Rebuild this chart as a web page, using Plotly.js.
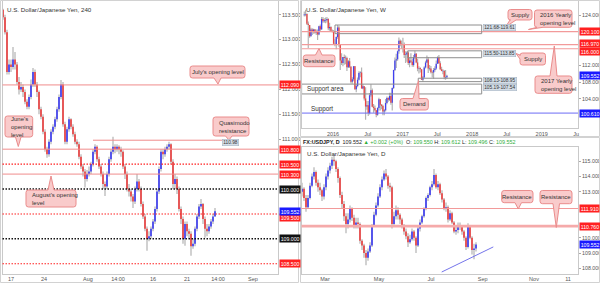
<!DOCTYPE html>
<html><head><meta charset="utf-8">
<script src="https://cdn.plot.ly/plotly-3.0.1.min.js"></script>
<style>html,body{margin:0;padding:0;background:#fff;}#chart{width:600px;height:283px;}</style>
</head><body><div id="chart"></div>
<script>
// ---------- 4H panel (left) ----------
const lO=[113.6,113.45,113.15,112.35,112.5,112.45,112.6,112.5,112.15,112.0,
112.05,111.95,111.75,111.65,111.85,112.1,112.35,112.1,111.95,111.6,
111.45,111.15,110.8,110.7,110.95,111.15,111.25,111.4,111.6,111.85,
112.1,111.3,110.95,111.2,111.4,111.25,111.1,110.95,110.9,110.65,
110.45,110.35,110.2,110.3,110.35,110.5,110.75,110.85,110.6,110.45,
110.3,110.1,110.05,110.3,110.6,110.75,110.85,110.8,110.85,110.8,
110.75,110.45,110.3,110.0,109.95,109.85,109.75,110.0,110.15,110.0,
109.7,109.45,109.2,109.0,109.05,109.2,109.35,109.6,109.95,110.4,
110.75,110.7,110.8,110.85,110.9,110.55,110.1,110.2,110.0,109.6,
109.4,109.0,109.3,109.15,109.1,108.85,108.9,109.2,109.45,109.65,
109.7,109.4,109.2,109.15,109.25,109.35,109.45];
const lH=[113.62,113.5,113.2,112.6,112.6,112.85,112.75,112.55,112.25,112.15,
112.1,112.0,111.8,111.9,112.2,112.43,112.4,112.15,111.98,111.65,
111.5,111.2,110.85,111.0,111.2,111.3,111.45,111.65,111.9,112.19,
112.15,111.35,111.25,111.45,111.42,111.3,111.15,111.0,110.95,110.7,
110.5,110.4,110.38,110.45,110.55,110.8,110.9,110.88,110.65,110.5,
110.35,110.15,110.35,110.65,110.8,111.05,110.9,110.9,110.88,110.85,
110.78,110.5,110.35,110.1,110.0,109.9,110.05,110.3,110.2,110.05,
109.75,109.5,109.25,109.15,109.25,109.4,109.65,110.0,110.45,110.8,
110.8,110.85,110.9,110.95,110.92,110.6,110.3,110.25,110.05,109.65,
109.45,109.35,109.35,109.2,109.15,109.0,109.25,109.5,109.7,109.8,
109.72,109.45,109.3,109.3,109.4,109.5,109.62];
const lL=[113.4,113.1,112.3,112.3,112.35,112.4,112.4,112.1,111.9,111.95,
111.85,111.7,111.6,111.6,111.8,112.05,112.05,111.85,111.5,111.4,
111.1,110.75,110.63,110.65,110.9,111.1,111.2,111.35,111.55,111.8,
111.25,110.9,110.9,111.15,111.2,111.05,110.9,110.85,110.6,110.4,
110.25,110.03,110.15,110.25,110.3,110.45,110.7,110.55,110.4,110.25,
110.0,109.86,110.0,110.25,110.55,110.7,110.72,110.75,110.7,110.65,
110.4,110.2,109.95,109.85,109.75,109.62,109.7,109.95,109.95,109.65,
109.4,109.15,108.76,108.95,109.0,109.15,109.3,109.55,109.9,110.35,
110.6,110.65,110.75,110.8,110.5,110.0,110.0,109.9,109.55,109.3,
108.9,108.86,109.05,109.0,108.66,108.8,108.85,109.15,109.4,109.6,
109.3,109.02,109.05,109.1,109.2,109.3,109.45];
const lC=[113.45,113.15,112.35,112.5,112.45,112.6,112.5,112.15,112.0,112.05,
111.95,111.75,111.65,111.85,112.1,112.35,112.1,111.95,111.6,111.45,
111.15,110.8,110.7,110.95,111.15,111.25,111.4,111.6,111.85,112.1,
111.3,110.95,111.2,111.4,111.25,111.1,110.95,110.9,110.65,110.45,
110.35,110.2,110.3,110.35,110.5,110.75,110.85,110.6,110.45,110.3,
110.1,110.05,110.3,110.6,110.75,110.85,110.8,110.85,110.8,110.75,
110.45,110.3,110.0,109.95,109.85,109.75,110.0,110.15,110.0,109.7,
109.45,109.2,109.0,109.05,109.2,109.35,109.6,109.95,110.4,110.75,
110.7,110.8,110.85,110.9,110.55,110.1,110.2,110.0,109.6,109.4,
109.0,109.3,109.15,109.1,108.85,108.9,109.2,109.45,109.65,109.7,
109.4,109.2,109.15,109.25,109.35,109.45,109.552];
const lTickPos=[4,20.5,42.5,57.5,75,92,107.5,125];
const lTickText=['17','24','Aug','14:00','16','21','14:00','Sep'];
const lLevels=[112.09,110.8,110.3];          // solid levels
const lRedDots=[110.5,109.5,108.5];          // red dotted levels
const lBlackDots=[110.0,109.0];              // black dotted levels
const qmLevel=110.98, qmFrom=45, qmTo=109.5; // Quasimodo resistance segment (candle index)

// ---------- Weekly panel ----------
const wO=[124.0,124.2,124.3,122.0,121.7,119.0,120.6,120.0,120.6,119.9,
120.2,119.4,121.4,120.6,123.1,122.6,122.8,122.8,123.1,120.9,
121.2,120.3,120.2,117.2,116.9,118.8,121.1,116.9,113.2,112.6,
114.0,113.8,113.8,111.6,113.0,111.7,108.1,108.7,111.8,106.3,
107.1,108.6,110.2,110.3,106.5,107.0,104.1,102.2,102.5,100.6,
104.9,106.1,102.1,101.8,101.3,100.2,101.8,103.9,102.6,102.3,
101.0,101.3,103.0,104.2,103.8,104.7,103.1,106.6,110.9,113.2,
113.5,115.4,117.9,117.2,116.9,117.0,114.5,114.6,115.1,112.6,
113.2,112.9,112.1,114.0,114.8,112.7,111.3,111.4,111.1,108.6,
109.1,111.5,112.7,113.4,111.3,111.3,110.4,110.3,110.9,111.3,
112.4,113.9,112.5,111.1,110.7,110.7,109.2,109.2];
const wH=[124.9,125.3,124.5,122.5,121.7,121.0,120.9,120.8,120.7,120.6,
120.6,121.5,121.8,123.6,123.6,123.3,123.5,123.6,123.3,122.2,
121.4,120.6,120.5,118.3,118.9,121.7,121.5,117.0,114.9,114.0,
114.6,114.4,114.1,113.3,113.8,111.9,109.2,111.9,111.9,107.5,
109.1,110.6,110.6,111.5,107.5,107.0,106.8,103.5,103.5,105.4,
107.5,106.5,102.8,102.4,101.3,102.0,104.3,104.0,102.8,102.6,
101.6,104.0,104.6,104.4,105.5,105.5,106.7,111.0,113.9,114.8,
115.6,118.7,118.2,118.0,118.6,117.5,115.4,115.4,115.4,113.9,
114.9,113.6,114.5,115.5,115.0,113.6,111.8,111.6,111.1,109.5,
111.8,113.1,114.4,114.0,112.1,111.9,110.8,111.4,111.8,113.2,
114.2,114.5,113.0,111.7,111.1,110.9,110.9,109.8];
const wL=[123.7,123.8,121.7,116.2,118.6,118.9,119.3,119.6,119.6,119.3,
118.1,119.2,120.1,120.6,122.2,122.2,122.1,122.3,120.4,120.3,
120.1,119.9,117.1,116.6,115.9,118.4,116.5,110.9,112.1,111.8,
112.2,112.3,110.7,111.4,111.4,107.7,107.6,108.2,106.2,105.6,
106.8,108.4,109.2,106.5,106.3,103.6,99.0,101.4,99.9,100.3,
104.5,102.0,100.7,101.0,99.6,100.0,101.2,101.2,101.5,100.1,
100.1,101.0,102.7,103.3,103.5,102.6,101.2,106.4,110.7,111.4,
113.1,114.8,116.6,116.0,115.1,113.8,112.6,112.9,112.1,111.6,
112.6,111.7,111.7,113.6,112.5,110.6,110.1,110.3,108.5,108.1,
109.1,111.3,112.6,110.2,110.8,110.1,109.1,108.8,110.5,111.0,
112.4,112.4,110.9,110.6,109.9,108.7,108.6,108.8];
const wC=[124.2,124.3,122.0,121.7,119.0,120.6,120.0,120.6,119.9,120.2,
119.4,121.4,120.6,123.1,122.6,122.8,122.8,123.1,120.9,121.2,
120.3,120.2,117.2,116.9,118.8,121.1,116.9,113.2,112.6,114.0,
113.8,113.8,111.6,113.0,111.7,108.1,108.7,111.8,106.3,107.1,
108.6,110.2,110.3,106.5,107.0,104.1,102.2,102.5,100.6,104.9,
106.1,102.1,101.8,101.3,100.2,101.8,103.9,102.6,102.3,101.0,
101.3,103.0,104.2,103.8,104.7,103.1,106.6,110.9,113.2,113.5,
115.4,117.9,117.2,116.9,117.0,114.5,114.6,115.1,112.6,113.2,
112.9,112.1,114.0,114.8,112.7,111.3,111.4,111.1,108.6,109.1,
111.5,112.7,113.4,111.3,111.3,110.4,110.3,110.9,111.3,112.4,
113.9,112.5,111.1,110.7,110.7,109.2,109.2,109.552];
const wTickPos=[21.57,47.57,73.86,99.71,126.0,151.86,178.14,204.0];
const wTickText=['2016','Jul','2017','Jul','2018','Jul','2019','Ju'];
const wRedLevels=[120.1,116.97,116.0];
const wBlueLevel=100.61;
const wZoneHi=[121.68,115.50,108.95,107.54];
const wZoneLo=[119.61,113.85,108.13,105.19];
const wZoneFrom=[23.05,77.6,85.5,-2];
const wZoneTo=133.1;
const wZoneText=['121.68-119.61','115.50-113.85','108.13-108.95','105.19-107.54'];

// ---------- Daily panel ----------
const dO=[113.0,113.2,112.6,112.0,112.6,113.4,114.0,114.3,113.6,113.3,
113.1,112.7,113.3,114.0,114.4,114.7,115.1,115.0,114.5,113.9,
112.8,112.2,111.4,110.9,111.2,111.9,111.3,110.8,111.0,110.9,
109.8,109.5,109.0,108.7,109.1,109.5,110.8,111.5,112.1,112.7,
113.3,113.8,114.2,114.0,113.4,113.3,110.9,111.4,111.8,111.5,
111.2,110.8,110.4,110.1,109.7,109.9,110.4,110.0,109.5,110.6,
111.0,111.4,111.9,112.6,112.8,113.3,113.5,114.1,113.3,113.5,
112.9,112.5,111.9,112.0,111.2,111.6,111.0,110.4,110.5,110.8,
110.7,110.4,110.0,109.4,110.8,110.0,109.2,109.3];
const dH=[113.6,113.3,112.8,112.8,113.6,114.2,114.6,114.4,113.8,113.6,
113.2,113.5,114.2,114.6,114.9,115.3,115.4,115.1,114.6,114.0,
113.0,112.4,111.6,111.6,112.1,112.0,111.5,111.3,111.3,111.0,
109.9,109.6,109.2,109.3,109.7,110.9,111.7,112.3,112.9,113.5,
114.0,114.4,114.5,114.1,113.6,113.4,111.7,112.1,112.0,111.6,
111.3,110.9,110.6,110.3,110.2,110.6,110.5,110.1,110.7,111.2,
111.5,112.0,112.7,112.9,113.4,113.7,114.5,114.2,113.7,113.6,
113.1,112.6,112.3,112.1,111.8,111.7,111.1,110.8,111.0,111.0,
110.8,110.5,110.1,110.95,110.8,110.1,109.6,109.7];
const dL=[112.7,112.4,111.7,111.9,112.5,113.3,113.8,113.4,113.0,112.8,
112.4,112.5,113.1,113.8,114.2,114.5,114.7,114.3,113.6,112.6,
111.9,111.1,110.3,110.6,111.0,111.1,110.6,110.6,110.6,109.6,
109.2,108.7,108.2,108.5,109.0,109.4,110.7,111.4,112.0,112.6,
113.1,113.7,113.8,113.2,113.0,110.6,110.8,111.2,111.2,110.9,
110.6,110.2,109.9,109.4,109.6,109.8,109.8,109.0,109.4,110.4,
110.9,111.3,111.8,112.4,112.7,113.1,113.4,113.2,113.1,112.8,
112.3,111.8,111.7,111.0,111.1,110.9,110.3,110.2,110.3,110.5,
110.2,109.8,109.2,109.3,109.9,108.9,108.6,109.1];
const dC=[113.2,112.6,112.0,112.6,113.4,114.0,114.3,113.6,113.3,113.1,
112.7,113.3,114.0,114.4,114.7,115.1,115.0,114.5,113.9,112.8,
112.2,111.4,110.9,111.2,111.9,111.3,110.8,111.0,110.9,109.8,
109.5,109.0,108.7,109.1,109.5,110.8,111.5,112.1,112.7,113.3,
113.8,114.2,114.0,113.4,113.3,110.9,111.4,111.8,111.5,111.2,
110.8,110.4,110.1,109.7,109.9,110.4,110.0,109.5,110.6,111.0,
111.4,111.9,112.6,112.8,113.3,113.5,114.1,113.3,113.5,112.9,
112.5,111.9,112.0,111.2,111.6,111.0,110.4,110.5,110.8,110.7,
110.4,110.0,109.4,110.8,110.0,109.2,109.3,109.552];
const dTickPos=[11.5,38.5,64.5,90.35,116,133];
const dTickText=['Mar','May','Jul','Sep','Nov','11'];
const dLevels=[111.91,110.76];
const dTrendX=[69.85,95.65], dTrendY=[107.76,109.40];

// ---------- drawing ----------
const W=600,H=283;
const FONT='Liberation Sans, Arial, sans-serif';
const UP='#4040f0', DN='#ea4444', WICK='#b3b3b3';
const LRED='#f08c8c', DRED='#ff2020', PINK='#f9cbcb', PINKB='#ea8c8c';
const px=x=>x/W, py=y=>1-y/H;

// wicks and bodies are drawn as line segments so the bodies sit on top of the wicks
function candles(O,Hh,L,C,xa,ya,bodyPx,minH){
  const wx=[],wy=[],ux=[],uy=[],dx=[],dy=[];
  C.forEach((c,i)=>{
    wx.push(i,i,null); wy.push(L[i],Hh[i],null);
    let lo=Math.min(c,O[i]), hi=Math.max(c,O[i]);
    if(hi-lo<minH){const m=(hi+lo)/2; lo=m-minH/2; hi=m+minH/2;}
    if(c>=O[i]){ux.push(i,i,null);uy.push(lo,hi,null);} else {dx.push(i,i,null);dy.push(lo,hi,null);}
  });
  const base={type:'scatter',mode:'lines',xaxis:xa,yaxis:ya,hoverinfo:'skip',showlegend:false};
  return [
    Object.assign({},base,{x:wx,y:wy,line:{color:WICK,width:1.2}}),
    Object.assign({},base,{x:ux,y:uy,line:{color:UP,width:bodyPx}}),
    Object.assign({},base,{x:dx,y:dy,line:{color:DN,width:bodyPx}})
  ];
}
const data=[...candles(lO,lH,lL,lC,'x','y',1.7,0.015),
            ...candles(wO,wH,wL,wC,'x2','y2',1.3,0.12),
            ...candles(dO,dH,dL,dC,'x3','y3',1.7,0.05)];

function xAx(dom,range,tv,tt,anchor){return {domain:dom,range:range,tickvals:tv,ticktext:tt,showgrid:false,zeroline:false,
  showline:true,mirror:true,linecolor:'#c9c9c9',linewidth:1,ticks:'',tickfont:{size:5.5,color:'#555',family:FONT},anchor:anchor,fixedrange:true};}
function yAx(dom,range,tv,anchor){return {domain:dom,range:range,side:'right',tickvals:tv,ticktext:tv.map(v=>v.toFixed(3)),
  showgrid:false,zeroline:false,showline:true,mirror:true,linecolor:'#c9c9c9',linewidth:1,ticks:'outside',ticklen:2,tickcolor:'#aaa',
  tickfont:{size:5.3,color:'#555',family:FONT},anchor:anchor,fixedrange:true};}

const shapes=[], ann=[];
function hline(v,ax,color,width,dash){shapes.push({type:'line',xref:(ax==='y'?'x':ax.replace('y','x'))+' domain',yref:ax,x0:0,x1:1,y0:v,y1:v,
  line:{color:color,width:width,dash:dash||'solid'},layer:'above'});}
function priceLabel(v,ax,xpx,bg,dy){ann.push({xref:'paper',yref:ax,x:px(xpx),y:v,xanchor:'left',yanchor:'middle',yshift:dy||0,
  text:v.toFixed(3),showarrow:false,bgcolor:bg,borderpad:0.7,font:{size:5.2,color:'#fff',family:FONT}});}
function txt(t,x,y,opt){ann.push(Object.assign({xref:'paper',yref:'paper',x:px(x),y:py(y),text:t,showarrow:false,
  xanchor:'left',yanchor:'middle',align:'left',font:{size:6,color:'#333',family:FONT}},opt||{}));}

// left levels
lLevels.forEach(v=>hline(v,'y',LRED,1));
lRedDots.forEach(v=>hline(v,'y',DRED,1.1,'1.5px,1.5px'));
lBlackDots.forEach(v=>hline(v,'y','#111',1.5,'1.5px,1.5px'));
shapes.push({type:'line',xref:'x',yref:'y',x0:qmFrom,x1:qmTo,y0:qmLevel,y1:qmLevel,line:{color:LRED,width:1}});
// weekly levels and zones
wRedLevels.forEach(v=>hline(v,'y2','#f29a9a',1.2));
hline(wBlueLevel,'y2','#6b6bf5',1);
wZoneHi.forEach((h,i)=>shapes.push({type:'rect',xref:'x2',yref:'y2',x0:wZoneFrom[i],x1:wZoneTo,y0:wZoneLo[i],y1:h,
  line:{color:'#8e8e8e',width:1},fillcolor:'rgba(0,0,0,0)'}));
// daily levels
hline(dLevels[0],'y3','#f29a9a',1.2);
hline(dLevels[1],'y3','#f5aaaa',2.6);
shapes.push({type:'line',xref:'x3',yref:'y3',x0:dTrendX[0],x1:dTrendX[1],y0:dTrendY[0],y1:dTrendY[1],line:{color:'#7474ea',width:1}});

// panel borders
[[0.5,0.5,298.5,282.5],[300.5,0.5,599.5,136.5],[300.5,137.5,599.5,282.5]].forEach(r=>shapes.push({type:'rect',xref:'paper',yref:'paper',
  x0:px(r[0]),x1:px(r[2]),y0:py(r[3]),y1:py(r[1]),line:{color:'#d2d2d2',width:1}}));

// callout bubbles
function bubble(b){
  const r=2.5, P=(x,y)=>(x/W).toFixed(5)+','+(1-y/H).toFixed(5);
  let d='M'+P(b.x0+r,b.y0);
  if(b.side==='top') d+=' L'+P(b.p0,b.y0)+' L'+P(b.tx,b.ty)+' L'+P(b.p1,b.y0);
  d+=' L'+P(b.x1-r,b.y0)+' Q'+P(b.x1,b.y0)+' '+P(b.x1,b.y0+r);
  d+=' L'+P(b.x1,b.y1-r)+' Q'+P(b.x1,b.y1)+' '+P(b.x1-r,b.y1);
  if(b.side==='bottom') d+=' L'+P(b.p1,b.y1)+' L'+P(b.tx,b.ty)+' L'+P(b.p0,b.y1);
  d+=' L'+P(b.x0+r,b.y1)+' Q'+P(b.x0,b.y1)+' '+P(b.x0,b.y1-r);
  if(b.side==='left') d+=' L'+P(b.x0,b.p1)+' L'+P(b.tx,b.ty)+' L'+P(b.x0,b.p0);
  d+=' L'+P(b.x0,b.y0+r)+' Q'+P(b.x0,b.y0)+' '+P(b.x0+r,b.y0)+' Z';
  shapes.push({type:'path',path:d,xref:'paper',yref:'paper',fillcolor:PINK,line:{color:PINKB,width:1},layer:'above'});
  const cx=b.align==='left'?b.x0+3.5:(b.x0+b.x1)/2;
  txt(b.t,cx,(b.y0+b.y1)/2,{xanchor:b.align==='left'?'left':'center',align:b.align||'center'});
}
[
 {t:"June's<br>opening<br>level",x0:5,y0:116,x1:32.7,y1:137,side:'bottom',p0:15.5,p1:21,tx:18.3,ty:146.5,align:'left'},
 {t:"July's opening level",x0:190,y0:66,x1:245,y1:78,side:'bottom',p0:214,p1:221,tx:218,ty:84},
 {t:"Quasimodo<br>resistance",x0:213,y0:117,x1:249,y1:136,side:'bottom',p0:225.5,p1:232,tx:229,ty:140,align:'left'},
 {t:"August's opening<br>level",x0:26,y0:190,x1:76,y1:207,side:'top',p0:48,p1:54,tx:51,ty:176,align:'left'},
 {t:"Supply",x0:508,y0:9.5,x1:532,y1:20,side:'bottom',p0:510,p1:516,tx:505.5,ty:27},
 {t:"2016 Yearly<br>opening level",x0:534.5,y0:10,x1:572,y1:27.3,side:'bottom',p0:537,p1:543,tx:528.5,ty:29.5,align:'left'},
 {t:"Resistance",x0:303.3,y0:55,x1:335,y1:66.7,side:'top',p0:315.5,p1:322,tx:319,ty:48.5},
 {t:"Supply",x0:520,y0:53,x1:545.5,y1:65,side:'left',p0:55,p1:59,tx:516,ty:53.5},
 {t:"2017 Yearly<br>opening level",x0:535,y0:76,x1:572,y1:93.3,side:'top',p0:550,p1:557,tx:554.3,ty:46,align:'left'},
 {t:"Demand",x0:400,y0:98.5,x1:428.3,y1:110,side:'top',p0:413,p1:419,tx:418.5,ty:80.5},
 {t:"Resistance",x0:501.7,y0:190.5,x1:533,y1:202.7,side:'bottom',p0:515,p1:521.5,tx:518.3,ty:209},
 {t:"Resistance",x0:540,y0:190.5,x1:572,y1:203.7,side:'bottom',p0:553,p1:559.5,tx:556.3,ty:227.5}
].forEach(bubble);

// zone value tags
const tagStyle={bgcolor:'#d3dde7',bordercolor:'#a7b6c5',borderwidth:0.6,borderpad:0.6,font:{size:4.8,color:'#333',family:FONT}};
const tagY=[27.2,53.5,80.5,87.8];
wZoneText.forEach((t,i)=>txt(t,482.8,tagY[i],tagStyle));
txt(qmLevel.toFixed(2),222.3,142.2,tagStyle);
txt('Support area',305,89,{font:{size:6.3,color:'#333',family:FONT}});
txt('Support',308.5,109.5,{font:{size:6.3,color:'#333',family:FONT}});

// titles
txt('U.S. Dollar/Japanese Yen, 240',5,9.3,{font:{size:6.2,color:'#333',family:FONT}});
txt('U.S. Dollar/Japanese Yen, W',304,9.3,{font:{size:6.2,color:'#333',family:FONT}});
txt('U.S. Dollar/Japanese Yen, D',305,153.5,{font:{size:6.2,color:'#333',family:FONT}});
const G='#2fae3a';
txt('<b>FX:USDJPY, D</b>  109.552 <span style="color:'+G+'">▲ +0.002 (+0%)</span>  O: <span style="color:'+G+'">109.550</span> H: <span style="color:'+G+'">109.612</span> L: <span style="color:'+G+'">109.496</span> C: <span style="color:'+G+'">109.552</span>',
    301,142,{font:{size:5.4,color:'#222',family:FONT}});

// price scale tags
[[112.09,DRED],[110.8,DRED],[110.5,DRED],[110.3,DRED],[110.0,'#111'],[109.0,'#111'],[108.5,DRED]].forEach(a=>priceLabel(a[0],'y',279.2,a[1]));
priceLabel(109.5,'y',279.2,DRED,-4);
priceLabel(109.552,'y',279.2,'#1a1aff');
[[120.1,DRED],[109.552,'#1a1aff'],[100.61,'#1a1aff']].forEach(a=>priceLabel(a[0],'y2',579.2,a[1]));
priceLabel(116.97,'y2',579.2,DRED,1);
priceLabel(116.0,'y2',579.2,DRED,-3);
[[111.91,DRED],[110.76,DRED],[109.552,'#1a1aff']].forEach(a=>priceLabel(a[0],'y3',579.2,a[1]));

const layout={width:W,height:H,margin:{l:0,r:0,t:0,b:0,pad:0},paper_bgcolor:'#fff',plot_bgcolor:'#fff',
  showlegend:false,hovermode:false,font:{family:FONT},
  xaxis:xAx([px(2.5),px(278)],[-0.25,137.5],lTickPos,lTickText,'y'),
  yaxis:yAx([py(273.7),py(1)],[108.3,113.775],[111,111.5,112,112.5,113,113.5],'x'),
  xaxis2:xAx([px(302),px(578)],[-1.7,205.35],wTickPos,wTickText,'y2'),
  yaxis2:yAx([py(128.3),py(1)],[96.97,127.42],[104,108,112,124],'x2'),
  xaxis3:xAx([px(301.5),px(578)],[-0.25,138],dTickPos,dTickText,'y3'),
  yaxis3:yAx([py(273.7),py(147)],[107.65,115.93],[108,109,110,113,114,115],'x3'),
  shapes:shapes,annotations:ann};
Plotly.newPlot('chart',data,layout,{staticPlot:true,displayModeBar:false});
</script></body></html>
